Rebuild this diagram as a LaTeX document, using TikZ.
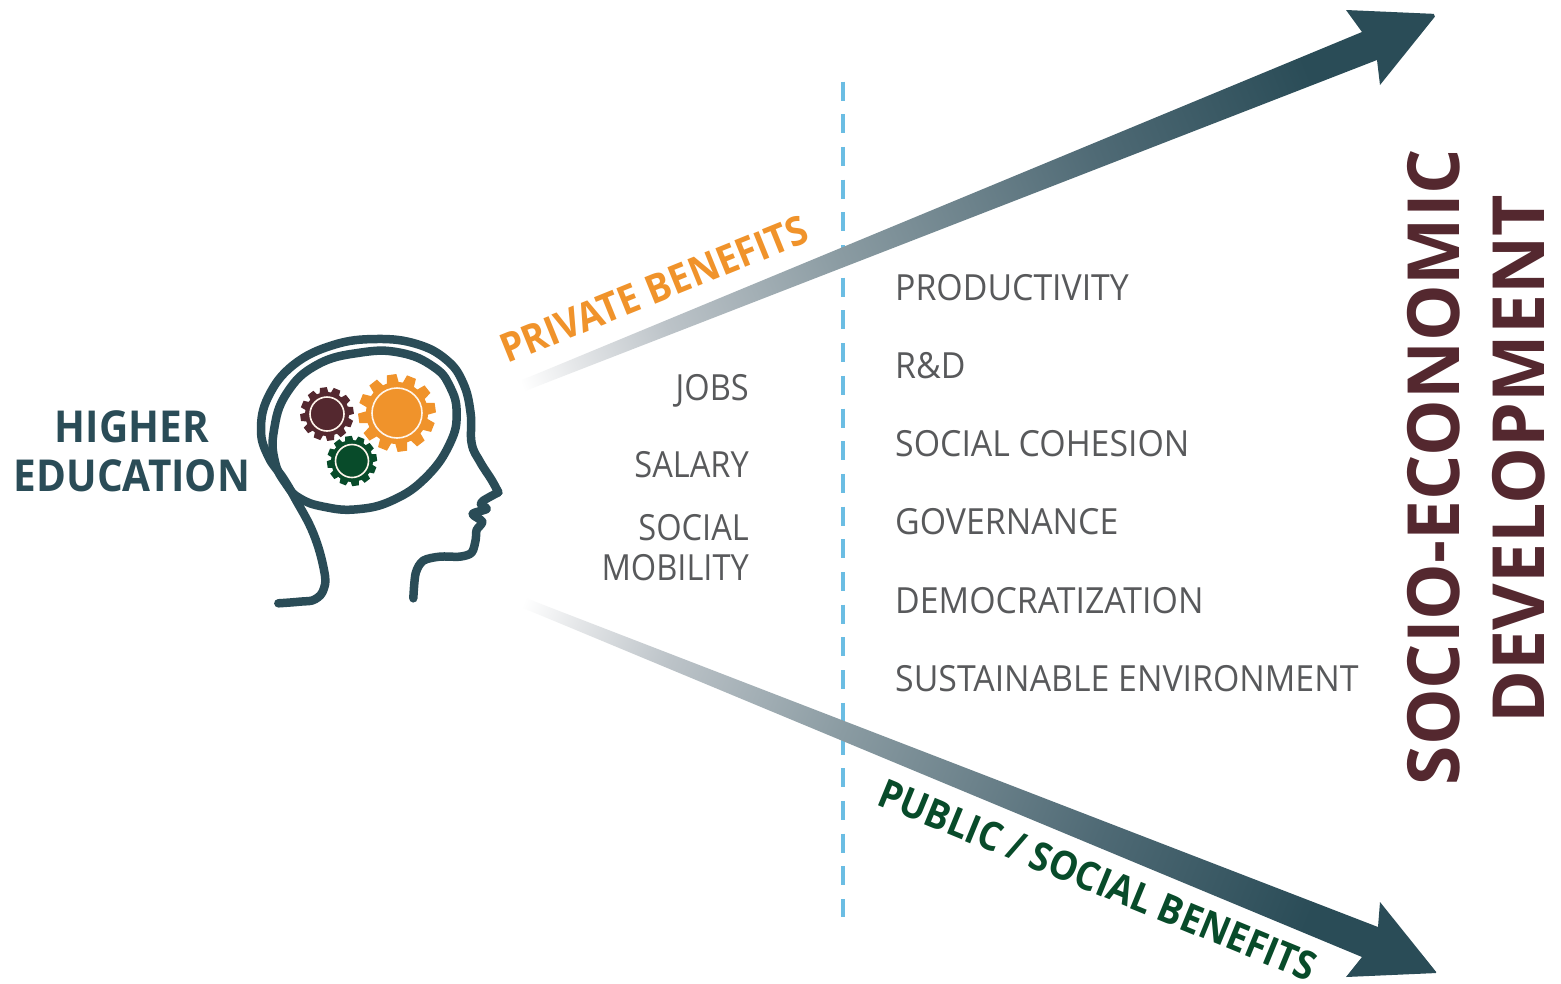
\documentclass[tikz,border=0pt]{standalone}
\usepackage{fontspec}
\setmainfont{Open Sans}
\newfontfamily\fitem[FakeStretch=0.94]{Open Sans}
\newfontfamily\fleft[FakeStretch=0.905]{Open Sans}
\newfontfamily\fedu[FakeStretch=0.92]{Open Sans}
\newfontfamily\fpriv[FakeStretch=0.925]{Open Sans}
\newfontfamily\fpub[FakeStretch=0.905]{Open Sans}
\newfontfamily\fsoc[FakeStretch=0.99]{Open Sans}
\newfontfamily\fdev[FakeStretch=0.995]{Open Sans}
\definecolor{teal}{HTML}{2A4C57}
\definecolor{txtgrey}{HTML}{58595B}
\definecolor{orangeb}{HTML}{F0932B}
\definecolor{greenb}{HTML}{084B2A}
\definecolor{maroonb}{HTML}{54282F}
\definecolor{dashblue}{HTML}{6BBDE3}
\definecolor{gA}{HTML}{E4E6E8}
\definecolor{gB}{HTML}{BCC3C8}
\definecolor{gC}{HTML}{8A9BA2}
\definecolor{gD}{HTML}{4F6A75}
\pgfdeclarehorizontalshading{arrowfade}{100bp}{
  color(0bp)=(white); color(25bp)=(white); color(28bp)=(gA); color(33bp)=(gB); color(42.5bp)=(gC); color(56.5bp)=(gD); color(68bp)=(teal); color(100bp)=(teal)}
\tikzset{
  item/.style={font=\fitem\fontsize{36}{36}\selectfont, text=txtgrey, inner sep=0pt},
  itemr/.style={font=\fleft\fontsize{36}{36}\selectfont, text=txtgrey, inner sep=0pt, anchor=base east},
  iteml/.style={item, anchor=base west},
  headline/.style={draw=teal, line width=8.5pt, line cap=round, line join=round, fill=none},
  gearring/.style={draw=white!92!orange, line width=1.6pt},
  bigtitle/.style={text=maroonb, rotate=90, anchor=base, inner sep=0pt},
  edu/.style={font=\fedu\fontsize{44}{44}\selectfont\bfseries, text=teal, anchor=base, inner sep=0pt},
}
\newcommand{\gearfig}[7]{% cx cy R root ring w colour
  \begin{scope}[shift={(#1,#2)}]
    \fill[#7] (0,0) circle[radius=#4];
    \foreach \a in {0,30,...,330}{
      \fill[#7, rotate=\a+8] ({-#6},{#4-1}) -- ({-0.8*#6},#3) -- ({0.8*#6},#3) -- ({#6},{#4-1}) -- cycle;
    }
    \draw[gearring] (0,0) circle[radius=#5];
  \end{scope}}
\begin{document}
\begin{tikzpicture}[x=1pt,y=-1pt]
\useasboundingbox (0,0) rectangle (1561,983);
\fill[white] (0,0) rectangle (1561,983);
% divider
\coordinate (dtop) at (843,81.5);
\coordinate (dbot) at (843,917);
\draw[dashblue, line width=4.5pt, dash pattern=on 19pt off 13.7pt] (dtop) -- (dbot);
% upper arrow
\begin{scope}
  \clip (522,380) -- (1362,32) -- (1346,10) -- (1437,14) -- (1380,85) -- (1377,60) -- (525,391) -- cycle;
  \shade[shading=arrowfade, transform canvas={shift={(523,389)},rotate=22.1}] (0,-150) rectangle (985,150);
\end{scope}
% lower arrow
\begin{scope}
  \clip (523,597) -- (1378,927) -- (1380,902) -- (1437,973) -- (1346,977) -- (1362,957) -- (523,608) -- cycle;
  \shade[shading=arrowfade, transform canvas={shift={(523,603)},rotate=-22.1}] (0,-150) rectangle (985,150);
\end{scope}
% head
\begin{scope}[shift={(250,330)},x=0.3333pt,y=-0.3333pt]
  \draw[headline] plot[smooth,tension=0.7] coordinates {(85,820) (150,815) (195,808) (222,775) (222,720) (190,610) (135,505) (100,445) (55,380) (33,300) (55,200) (130,105) (250,45) (380,27) (500,42) (590,90) (640,160) (662,250) (665,340) (690,395) (725,450) (745,487)};
  \draw[headline] plot[smooth,tension=0.5] coordinates {(745,487) (700,512) (693,525) (710,537) (668,552) (697,575) (680,600) (677,630) (665,668) (630,680) (570,680) (520,692) (497,730) (490,805)};
  \draw[headline] plot[smooth cycle,tension=0.75] coordinates {(110,465) (75,395) (72,300) (110,190) (200,105) (330,68) (450,68) (550,110) (600,170) (620,250) (600,340) (530,440) (430,510) (320,538) (220,530) (150,505)};
\end{scope}
\gearfig{397}{413}{38.7}{31}{25}{6}{orangeb}
\gearfig{327}{414}{26.7}{22}{17}{4.4}{maroonb}
\gearfig{352}{461}{25}{21}{16.5}{4.2}{greenb}
% texts
\node[edu] (he1) at (132,442) {HIGHER};
\node[edu] (he2) at (132,491) {EDUCATION};
\node[font=\fpriv\fontsize{40}{40}\selectfont\bfseries, text=orangeb, anchor=base west, rotate=22, inner sep=0pt] (priv) at (507,364) {PRIVATE BENEFITS};
\node[font=\fpub\fontsize{40}{40}\selectfont\bfseries, text=greenb, anchor=base west, rotate=-22.3, inner sep=0pt] (pub) at (875,804) {PUBLIC / SOCIAL BENEFITS};
\node[itemr] (jobs) at (749,400) {JOBS};
\node[itemr] (sal) at (749,477) {SALARY};
\node[itemr] (soc) at (749,540) {SOCIAL};
\node[itemr] (mob) at (749,580) {MOBILITY};
\node[iteml] (i1) at (895,300) {PRODUCTIVITY};
\node[iteml] (i2) at (895,378) {R\&D};
\node[iteml] (i3) at (895,456) {SOCIAL COHESION};
\node[iteml] (i4) at (895,534) {GOVERNANCE};
\node[iteml] (i5) at (895,613) {DEMOCRATIZATION};
\node[iteml] (i6) at (895,691) {SUSTAINABLE ENVIRONMENT};
\node[font=\fsoc\fontsize{72}{72}\selectfont\bfseries, bigtitle] (se) at (1459,467) {SOCIO-ECONOMIC};
\node[font=\fdev\fontsize{72}{72}\selectfont\bfseries, bigtitle] (dev) at (1544,459) {DEVELOPMENT};
\end{tikzpicture}
\end{document}
